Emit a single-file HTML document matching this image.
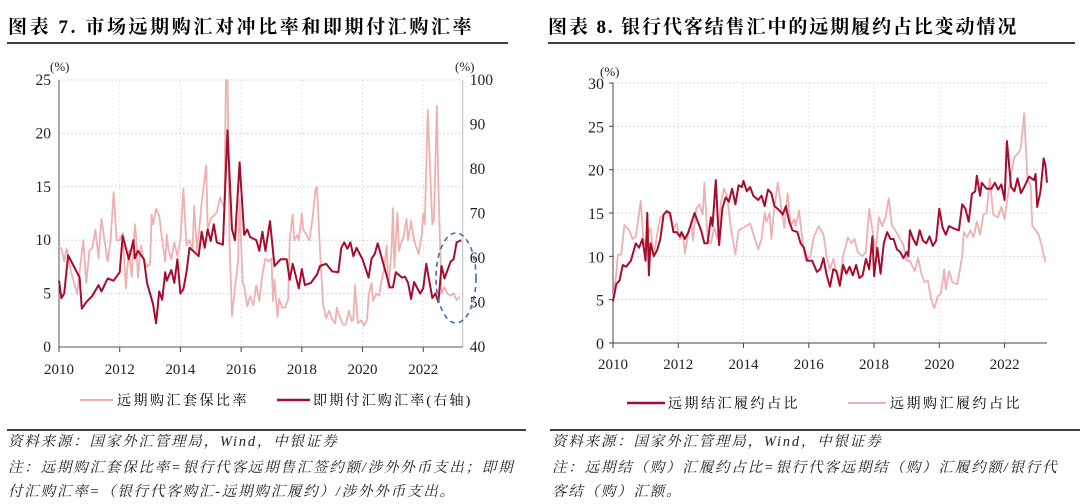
<!DOCTYPE html>
<html><head><meta charset="utf-8">
<style>
body{margin:0;width:1080px;height:504px;background:#fff;overflow:hidden;font-family:"Liberation Serif","Noto Serif CJK SC",serif;}
svg{position:absolute;left:0;top:0}
.t{font-family:"Liberation Serif","Noto Serif CJK SC",serif;}
</style></head>
<body>
<svg width="1080" height="504" viewBox="0 0 1080 504">
<g id="static">
<text x="8" y="33" font-size="19" font-weight="bold" fill="#000" class="t" letter-spacing="2.6">图表 7. 市场远期购汇对冲比率和即期付汇购汇率</text>
<line x1="7" y1="43" x2="508" y2="43" stroke="#000" stroke-width="1.5"/>
<text x="548" y="33" font-size="19" font-weight="bold" fill="#000" class="t" letter-spacing="1.9">图表 8. 银行代客结售汇中的远期履约占比变动情况</text>
<line x1="548" y1="43" x2="1075" y2="43" stroke="#000" stroke-width="1.5"/>
<line x1="7" y1="430" x2="526" y2="430" stroke="#000" stroke-width="1.5"/>
<line x1="550" y1="430" x2="1080" y2="430" stroke="#000" stroke-width="1.5"/>
<g font-size="14.5" font-style="italic" fill="#222" class="t" letter-spacing="1.8">
<text x="8" y="446">资料来源：国家外汇管理局，Wind，中银证券</text>
<text x="8" y="472">注：远期购汇套保比率=银行代客远期售汇签约额/涉外外币支出；即期</text>
<text x="8" y="496">付汇购汇率=（银行代客购汇-远期购汇履约）/涉外外币支出。</text>
<text x="552" y="446">资料来源：国家外汇管理局，Wind，中银证券</text>
<text x="552" y="472">注：远期结（购）汇履约占比=银行代客远期结（购）汇履约额/银行代</text>
<text x="552" y="496">客结（购）汇额。</text>
</g>
<!-- legends -->
<line x1="80" y1="400" x2="113" y2="400" stroke="#eeb0b0" stroke-width="2"/>
<text x="117" y="405" font-size="14" class="t" letter-spacing="2.5">远期购汇套保比率</text>
<line x1="277" y1="400" x2="310" y2="400" stroke="#a50d2e" stroke-width="2.5"/>
<text x="313" y="405" font-size="14" class="t" letter-spacing="2.2">即期付汇购汇率(右轴)</text>
<line x1="627" y1="403" x2="665" y2="403" stroke="#a50d2e" stroke-width="2.5"/>
<text x="668" y="408" font-size="14" class="t" letter-spacing="2.5">远期结汇履约占比</text>
<line x1="848" y1="403" x2="886" y2="403" stroke="#eeb0b0" stroke-width="2"/>
<text x="890" y="408" font-size="14" class="t" letter-spacing="2.5">远期购汇履约占比</text>
</g>
<g id="left"></g>
<g id="right"></g>
</svg>
<script>
// ---------- Left chart data ----------
const leftYears = [2010,2012,2014,2016,2018,2020,2022];
const leftTicksL = [0,5,10,15,20,25];
const leftTicksR = [40,50,60,70,80,90,100];
const hedgeT = [2010.0,2010.08,2010.17,2010.25,2010.4,2010.6,2010.7,2010.8,2010.9,2011.0,2011.1,2011.2,2011.3,2011.4,2011.5,2011.6,2011.7,2011.8,2011.9,2012.0,2012.1,2012.2,2012.3,2012.4,2012.5,2012.55,2012.6,2012.7,2012.8,2012.9,2013.0,2013.05,2013.1,2013.2,2013.3,2013.4,2013.5,2013.55,2013.6,2013.7,2013.8,2013.9,2014.0,2014.1,2014.2,2014.3,2014.4,2014.45,2014.55,2014.7,2014.85,2014.9,2015.0,2015.2,2015.3,2015.45,2015.5,2015.55,2015.62,2015.7,2015.8,2015.9,2015.95,2016.05,2016.1,2016.2,2016.3,2016.4,2016.5,2016.6,2016.7,2016.8,2016.9,2017.0,2017.05,2017.1,2017.2,2017.25,2017.35,2017.45,2017.55,2017.6,2017.7,2017.75,2017.85,2017.9,2018.0,2018.05,2018.15,2018.25,2018.35,2018.45,2018.5,2018.6,2018.7,2018.8,2018.9,2019.0,2019.1,2019.15,2019.25,2019.35,2019.45,2019.55,2019.65,2019.7,2019.75,2019.85,2019.95,2020.05,2020.15,2020.2,2020.3,2020.35,2020.45,2020.55,2020.6,2020.7,2020.8,2020.85,2020.95,2021.0,2021.05,2021.1,2021.15,2021.2,2021.3,2021.35,2021.45,2021.5,2021.6,2021.7,2021.75,2021.85,2021.95,2022.0,2022.05,2022.15,2022.25,2022.3,2022.35,2022.45,2022.5,2022.6,2022.7,2022.8,2022.9,2023.0,2023.1,2023.2];
const hedgeV = [9.4,9.2,8,9.2,7,5,7.5,10,6,9,9.3,11,8.3,12,10,8,10,14.5,10,10,10.7,5.5,9,6.6,11.5,10,6.5,9.5,8,7.5,7.8,12.4,11.5,12.9,12.3,10,8,10.5,9.2,8.2,9.8,8.5,10,14.8,9.5,10,9,13.2,9,13.5,17,11,12,12.6,14,13,25,25,9.5,2.9,5.6,8,13.8,6,5.7,3.8,4.8,3.9,5.8,4.3,6.8,8.3,8,8.3,4.3,6.3,2.8,4.5,3.7,3.7,4.5,10,12.4,10,10.5,10,12.5,11,10.5,10,12,14.8,15,9,4,2.7,3.4,2.6,2.2,3.7,2.8,2.1,2.1,3.4,2.4,2.7,5.8,2.2,2.5,2,2.6,4.8,6,4.3,5,4.8,5.8,7.2,9.5,5.5,8.8,13,7.4,10,12.6,9,10,10.3,12,10,11.8,10,9.5,8.7,10.5,12.5,11.5,22.2,15,11.5,11.8,22.6,15,5,5.6,5,4.8,5,4.4,4.7];
const spotT = [2010.0,2010.08,2010.17,2010.3,2010.5,2010.68,2010.75,2010.9,2011.1,2011.3,2011.4,2011.6,2011.8,2012.0,2012.1,2012.3,2012.45,2012.5,2012.6,2012.8,2012.9,2013.1,2013.2,2013.3,2013.4,2013.5,2013.55,2013.7,2013.8,2013.9,2014.0,2014.1,2014.2,2014.3,2014.5,2014.6,2014.7,2014.8,2014.9,2015.0,2015.1,2015.2,2015.4,2015.55,2015.7,2015.8,2015.95,2016.1,2016.2,2016.3,2016.5,2016.6,2016.7,2016.8,2016.95,2017.1,2017.3,2017.5,2017.6,2017.7,2017.9,2018.0,2018.1,2018.3,2018.5,2018.6,2018.8,2019.0,2019.2,2019.3,2019.4,2019.5,2019.6,2019.7,2019.8,2020.0,2020.2,2020.3,2020.4,2020.5,2020.6,2020.9,2021.0,2021.1,2021.3,2021.4,2021.5,2021.6,2021.7,2021.9,2022.0,2022.1,2022.3,2022.4,2022.5,2022.6,2022.7,2022.9,2023.0,2023.1,2023.25];
const spotV = [54.9,51.0,52.0,60.6,58.0,55.6,48.6,50.1,51.5,53.9,52.5,55.4,54.9,56.8,65.0,59.7,64.0,59.9,61.6,59.7,54.4,49.6,45.3,52.5,50.6,56.8,54.9,57.3,54.4,59.7,52.0,53.0,56.8,62.3,61.1,60.4,65.9,62.3,66.4,63.8,67.6,63.5,63.0,88.7,66.4,64.0,81.5,65.2,66.4,64.7,64.0,61.6,65.9,61.6,68.3,58.2,59.7,59.7,55.1,58.7,53.2,57.5,53.9,54.4,56.3,58.2,58.7,57.0,56.8,62.3,63.5,62.1,63.5,60.4,62.3,59.7,55.6,59.9,60.9,63.3,60.9,53.4,53.4,56.8,55.6,55.8,54.4,50.8,54.6,52.0,53.2,58.7,51.0,52.0,50.1,58.2,55.4,59.2,59.7,63.5,64.0];

// ---------- Right chart data ----------
const rightYears = [2010,2012,2014,2016,2018,2020,2022];
const rightTicks = [0,5,10,15,20,25,30];
const settleT = [2010.0,2010.1,2010.2,2010.3,2010.4,2010.55,2010.7,2010.8,2010.9,2011.0,2011.05,2011.1,2011.15,2011.25,2011.35,2011.45,2011.55,2011.65,2011.75,2011.85,2011.95,2012.05,2012.1,2012.2,2012.3,2012.5,2012.6,2012.7,2012.8,2012.9,2013.0,2013.05,2013.15,2013.25,2013.35,2013.45,2013.55,2013.65,2013.75,2013.85,2013.95,2014.0,2014.1,2014.2,2014.3,2014.45,2014.55,2014.65,2014.75,2014.85,2014.95,2015.1,2015.2,2015.3,2015.4,2015.5,2015.65,2015.75,2015.85,2015.95,2016.1,2016.25,2016.35,2016.45,2016.55,2016.65,2016.75,2016.85,2016.95,2017.05,2017.15,2017.25,2017.35,2017.45,2017.55,2017.65,2017.75,2017.85,2017.95,2018.0,2018.1,2018.2,2018.3,2018.4,2018.5,2018.6,2018.7,2018.8,2018.9,2019.0,2019.05,2019.1,2019.2,2019.3,2019.4,2019.5,2019.6,2019.7,2019.8,2019.9,2020.0,2020.1,2020.2,2020.3,2020.45,2020.6,2020.7,2020.8,2020.9,2021.0,2021.1,2021.15,2021.25,2021.3,2021.45,2021.6,2021.7,2021.8,2021.9,2022.0,2022.07,2022.2,2022.3,2022.4,2022.5,2022.6,2022.75,2022.9,2022.95,2023.0,2023.1,2023.2,2023.25,2023.3];
const settleV = [4.8,6.8,7.2,9,8.8,9.5,11.5,11,12,9.5,15,7.8,11.5,10,10.7,12,14.8,15.2,15,12.8,12.8,12.3,12.8,12,12.7,15,14,13,11.5,11.5,14.5,13.5,18.8,11.3,15.5,16.8,16.3,17.8,16,18.2,18,18.7,17.5,18,17,16.5,17,15.8,17.7,17.3,15.8,15.3,14.8,15.8,14,13,12.8,11.5,11,9.5,9.5,8.2,8.5,9.8,7.8,6.5,8.5,8.3,6.6,9,8,8.8,7.8,9,7.5,7.8,9.7,8.5,12.3,7.7,11,8,11.5,12.8,12,12,10.8,10.5,9.8,10.5,10,13,12,11.3,13,11.8,11.5,12.3,11.2,11.8,15.5,13.3,12.5,13.5,13.2,13,16,15.5,14,17.2,17.5,19.3,17,18.5,17.8,17.8,18.5,17.7,18.3,16.5,23.3,18,17.5,19,17.3,18,19.2,18.8,19.5,15.7,17.5,21.3,20.5,18.5];
const purchT = [2010.0,2010.1,2010.15,2010.25,2010.35,2010.5,2010.6,2010.7,2010.8,2010.85,2010.95,2011.05,2011.15,2011.25,2011.35,2011.45,2011.55,2011.65,2011.75,2011.85,2011.95,2012.05,2012.15,2012.2,2012.3,2012.4,2012.45,2012.55,2012.65,2012.75,2012.8,2012.9,2013.0,2013.1,2013.2,2013.3,2013.4,2013.5,2013.6,2013.75,2013.85,2014.0,2014.2,2014.35,2014.45,2014.55,2014.65,2014.7,2014.8,2014.85,2014.95,2015.05,2015.15,2015.25,2015.35,2015.45,2015.55,2015.6,2015.7,2015.8,2015.9,2016.05,2016.15,2016.3,2016.45,2016.55,2016.65,2016.75,2016.85,2016.95,2017.05,2017.2,2017.3,2017.4,2017.5,2017.65,2017.75,2017.85,2017.95,2018.05,2018.15,2018.25,2018.35,2018.45,2018.55,2018.65,2018.8,2018.9,2019.0,2019.1,2019.25,2019.35,2019.45,2019.55,2019.65,2019.75,2019.85,2019.95,2020.05,2020.15,2020.2,2020.3,2020.4,2020.55,2020.7,2020.75,2020.85,2020.95,2021.05,2021.15,2021.25,2021.35,2021.45,2021.55,2021.65,2021.8,2021.9,2022.0,2022.1,2022.2,2022.3,2022.4,2022.5,2022.6,2022.7,2022.8,2022.85,2022.95,2023.05,2023.15,2023.25];
const purchV = [5,8,10.2,10.2,13.6,13,12,12.3,15,16.4,11,12.5,13.2,10,12.5,14.5,14.8,15.3,14.5,13.2,13.8,12,12.5,10.3,12.5,14,11.8,15.5,16,14.8,18.5,12,11.5,13.3,12,16,17.8,17,13.5,10.2,13,13.3,13.8,12,10.8,12,15,14,15,12,15.8,18.5,15.8,13.3,17.3,13.5,14.3,13.5,15.3,12,9.5,10,12.2,13.5,12.5,10,8.5,9.7,8,7.2,10,12.2,11.5,12,10.5,10,10.5,15.5,13,10.5,14.5,13.5,14.5,16.7,13.5,13,12,11.3,9.5,9.5,8.3,9.8,8,7,7.2,5,4,5.4,5.7,8.5,6.2,8.3,7,6.8,10,12.8,12.2,13,12.2,14,12.5,14.8,15,19,14.8,14.5,15.7,14.3,17,19.5,21.5,21.8,22.5,26.5,18.8,18.2,13.5,13,12.5,11,9.3];

const NS='http://www.w3.org/2000/svg';
function mk(parent,tag,attrs){const e=document.createElementNS(NS,tag);for(const k in attrs)e.setAttribute(k,attrs[k]);parent.appendChild(e);return e;}

// ---------- Left chart ----------
(function(){
  const g=document.getElementById('left');
  const X0=59,X1=462.7,Y0=347,Y1=80;
  const xs=t=>X0+(t-2010)*(X1-X0)/13.3;
  const yL=v=>Y0-(v-0)*(Y0-Y1)/25;
  const yR=v=>Y0-(v-40)*(Y0-Y1)/60;
  leftTicksL.forEach(v=>{
    if(v>0){const l=mk(g,'line',{x1:X0,x2:X1,y1:yL(v),y2:yL(v),stroke:'#ccc','stroke-dasharray':'1.5,2.5'});
    
    }
    const tx=mk(g,'text',{x:X0-8,y:yL(v)+5,'text-anchor':'end','font-size':15.5,fill:'#222',class:'t'});tx.textContent=v;
    
    
  });
  leftTicksR.forEach(v=>{
    const tx=mk(g,'text',{x:X1+7,y:yR(v)+5,'font-size':15.5,fill:'#222',class:'t'});tx.textContent=v;
    
    
  });
  leftYears.forEach(yr=>{
    const x=xs(yr);
    if(yr>2010){const l=mk(g,'line',{x1:x,x2:x,y1:Y1,y2:Y0,stroke:'#ddd','stroke-dasharray':'1.5,2.5'});
    
    }
    const tk=mk(g,'line',{x1:x,x2:x,y1:Y0,y2:Y0+5,stroke:'#444'});
    
    
    const tx=mk(g,'text',{x:x,y:Y0+27,'text-anchor':'middle','font-size':15,fill:'#222',class:'t'});tx.textContent=yr;
    
    
  });
  let a=mk(g,'line',{x1:X0,x2:X0,y1:Y1,y2:Y0,stroke:'#555'});
  
  
  a=mk(g,'line',{x1:X1,x2:X1,y1:Y1,y2:Y0,stroke:'#bbb'});
  
  
  a=mk(g,'line',{x1:X0,x2:X1,y1:Y0,y2:Y0,stroke:'#555'});
  
  
  let u=mk(g,'text',{x:50,y:71,'font-size':13,fill:'#222',class:'t'});u.textContent='(%)';
  
  
  u=mk(g,'text',{x:455,y:71,'font-size':13,fill:'#222',class:'t'});u.textContent='(%)';
  
  
  const p1=mk(g,'path',{d:hedgeT.map((t,i)=>(i?'L':'M')+xs(t).toFixed(1)+','+yL(Math.min(hedgeV[i],25)).toFixed(1)).join(''),fill:'none',stroke:'#eeb0b0','stroke-width':1.8,'stroke-linejoin':'round'});
  
  
  const p2=mk(g,'path',{d:spotT.map((t,i)=>(i?'L':'M')+xs(t).toFixed(1)+','+yR(spotV[i]).toFixed(1)).join(''),fill:'none',stroke:'#a50d2e','stroke-width':2,'stroke-linejoin':'round'});
  
  
  const el=mk(g,'ellipse',{cx:456,cy:278,rx:20,ry:45,fill:'none',stroke:'#3f6fb0','stroke-width':1.6,'stroke-dasharray':'5,4'});
  
  
})();

// ---------- Right chart ----------
(function(){
  const g=document.getElementById('right');
  const X0=613,X1=1047,Y0=343,Y1=83;
  const xs=t=>X0+(t-2010)*(X1-X0)/13.3;
  const ys=v=>Y0-v*(Y0-Y1)/30;
  rightTicks.forEach(v=>{
    if(v>0){const l=mk(g,'line',{x1:X0,x2:X1,y1:ys(v),y2:ys(v),stroke:'#ccc','stroke-dasharray':'1.5,2.5'});
    
    }
    const tk=mk(g,'line',{x1:X0-4,x2:X0,y1:ys(v),y2:ys(v),stroke:'#444'});
    
    
    const tx=mk(g,'text',{x:X0-9,y:ys(v)+6,'text-anchor':'end','font-size':16,fill:'#222',class:'t'});tx.textContent=v;
    
    
  });
  rightYears.forEach(yr=>{
    const x=xs(yr);
    if(yr>2010){const l=mk(g,'line',{x1:x,x2:x,y1:Y1,y2:Y0,stroke:'#ddd','stroke-dasharray':'1.5,2.5'});
    
    }
    const tk=mk(g,'line',{x1:x,x2:x,y1:Y0,y2:Y0+5,stroke:'#444'});
    
    
    const tx=mk(g,'text',{x:x,y:Y0+26,'text-anchor':'middle','font-size':15,fill:'#222',class:'t'});tx.textContent=yr;
    
    
  });
  let a=mk(g,'line',{x1:X0,x2:X0,y1:Y1,y2:Y0,stroke:'#444'});
  
  
  a=mk(g,'line',{x1:X0,x2:X1,y1:Y0,y2:Y0,stroke:'#444'});
  
  
  const u=mk(g,'text',{x:600,y:76,'font-size':13,fill:'#222',class:'t'});u.textContent='(%)';
  
  
  const p1=mk(g,'path',{d:purchT.map((t,i)=>(i?'L':'M')+xs(t).toFixed(1)+','+ys(purchV[i]).toFixed(1)).join(''),fill:'none',stroke:'#eeb0b0','stroke-width':1.8,'stroke-linejoin':'round'});
  
  
  const p2=mk(g,'path',{d:settleT.map((t,i)=>(i?'L':'M')+xs(t).toFixed(1)+','+ys(settleV[i]).toFixed(1)).join(''),fill:'none',stroke:'#a50d2e','stroke-width':2,'stroke-linejoin':'round'});
  
  
})();
</script>
</body></html>
